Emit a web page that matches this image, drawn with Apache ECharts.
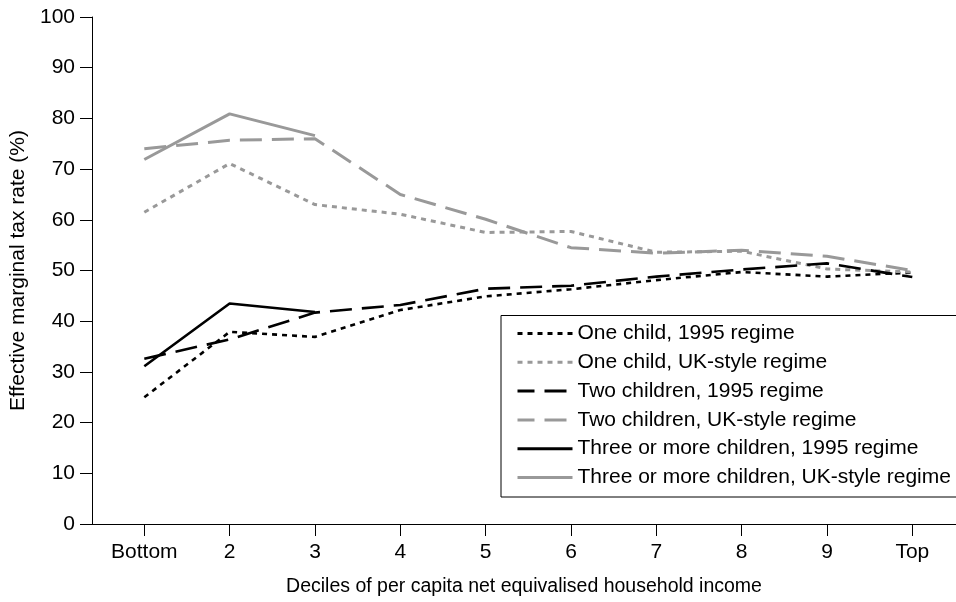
<!DOCTYPE html>
<html>
<head>
<meta charset="utf-8">
<script src="https://cdn.jsdelivr.net/npm/echarts@6.0.0/dist/echarts.min.js"></script>
<style>
  html, body { margin: 0; padding: 0; background: #fff; }
  #chart { width: 956px; height: 602px; }
</style>
</head>
<body>
<div id="chart"></div>
<script>
const categories = ['Bottom', '2', '3', '4', '5', '6', '7', '8', '9', 'Top'];
const yTicks = [0, 10, 20, 30, 40, 50, 60, 70, 80, 90, 100];

const oneChild1995 = [25.0, 37.9, 36.9, 42.2, 44.9, 46.3, 48.1, 49.7, 48.8, 49.6];
const oneChildUK = [61.5, 71.1, 63.0, 61.1, 57.5, 57.7, 53.6, 53.8, 50.3, 49.7];
const twoChildren1995 = [32.6, 36.4, 41.7, 43.2, 46.4, 47.0, 48.8, 50.2, 51.4, 48.7];
const twoChildrenUK = [74.0, 75.7, 76.0, 65.0, 60.1, 54.5, 53.4, 54.0, 52.8, 50.0];
const threeChildren1995 = [31.1, 43.5, 41.8, null, null, null, null, null, null, null];
const threeChildrenUK = [71.9, 80.9, 76.6, null, null, null, null, null, null, null];

const names = [
  'One child, 1995 regime',
  'One child, UK-style regime',
  'Two children, 1995 regime',
  'Two children, UK-style regime',
  'Three or more children, 1995 regime',
  'Three or more children, UK-style regime'
];

const FONT = 'Liberation Sans';
const GREY = '#999999';
const BLACK = '#000000';
const DOT = [5, 5];
const DASH = [22, 10];

function pairs(arr) { return arr.map((v, i) => [i, v]); }

function mk(name, arr, color, type, width) {
  return {
    name: name,
    type: 'line',
    data: pairs(arr),
    symbol: 'none',
    showSymbol: false,
    connectNulls: false,
    animation: false,
    color: color,
    lineStyle: { color: color, width: width, type: type },
    itemStyle: { color: color }
  };
}

function legendItem(name, color, type, offset) {
  return {
    name: name,
    itemStyle: { opacity: 0, color: 'transparent', borderWidth: 0 },
    lineStyle: { color: color, width: 3, type: type, dashOffset: offset }
  };
}

const chart = echarts.init(document.getElementById('chart'), null, { renderer: 'canvas' });
chart.setOption({
  backgroundColor: '#ffffff',
  animation: false,
  textStyle: { fontFamily: FONT, color: '#000' },
  grid: { left: 92, right: 0, top: 17, bottom: 72.7, containLabel: false },
  legend: {
    orient: 'vertical',
    left: 501,
    top: 315.5,
    padding: [7.5, 8, 9, 15],
    itemWidth: 55,
    itemHeight: 17,
    itemGap: 7.8,
    borderColor: '#000',
    borderWidth: 1,
    backgroundColor: '#fff',
    itemStyle: { opacity: 0 },
    textStyle: { fontFamily: FONT, fontSize: 21, color: '#000' },
    data: [
      legendItem(names[0], BLACK, DOT, 0),
      legendItem(names[1], GREY, DOT, 0),
      legendItem(names[2], BLACK, DASH, 5),
      legendItem(names[3], GREY, DASH, 5),
      legendItem(names[4], BLACK, 'solid', 0),
      legendItem(names[5], GREY, 'solid', 0)
    ]
  },
  xAxis: {
    type: 'value',
    min: -0.613,
    max: 9.512,
    name: 'Deciles of per capita net equivalised household income',
    nameLocation: 'middle',
    nameGap: 53,
    nameTextStyle: { fontFamily: FONT, fontSize: 19.5, color: '#000' },
    axisLine: { show: true, onZero: false, lineStyle: { color: '#000', width: 1 } },
    axisTick: { show: true, length: 12, customValues: categories.map((c, i) => i), lineStyle: { color: '#000' } },
    axisLabel: {
      customValues: categories.map((c, i) => i),
      formatter: v => categories[Math.round(v)],
      margin: 17.5,
      fontFamily: FONT, fontSize: 21, color: '#000'
    },
    splitLine: { show: false }
  },
  yAxis: {
    type: 'value',
    min: yTicks[0],
    max: yTicks[yTicks.length - 1],
    interval: 10,
    name: 'Effective marginal tax rate (%)',
    nameLocation: 'middle',
    nameGap: 62,
    nameTextStyle: { fontFamily: FONT, fontSize: 21, color: '#000' },
    axisLine: { show: true, onZero: false, lineStyle: { color: '#000', width: 1 } },
    axisTick: { show: true, length: 12, lineStyle: { color: '#000' } },
    axisLabel: { margin: 17, fontFamily: FONT, fontSize: 21, color: '#000' },
    splitLine: { show: false }
  },
  series: [
    mk(names[0], oneChild1995, BLACK, DOT, 2.6),
    mk(names[1], oneChildUK, GREY, DOT, 3),
    mk(names[2], twoChildren1995, BLACK, DASH, 2.6),
    mk(names[3], twoChildrenUK, GREY, DASH, 3),
    mk(names[4], threeChildren1995, BLACK, 'solid', 2.6),
    mk(names[5], threeChildrenUK, GREY, 'solid', 3)
  ]
});
</script>
</body>
</html>
